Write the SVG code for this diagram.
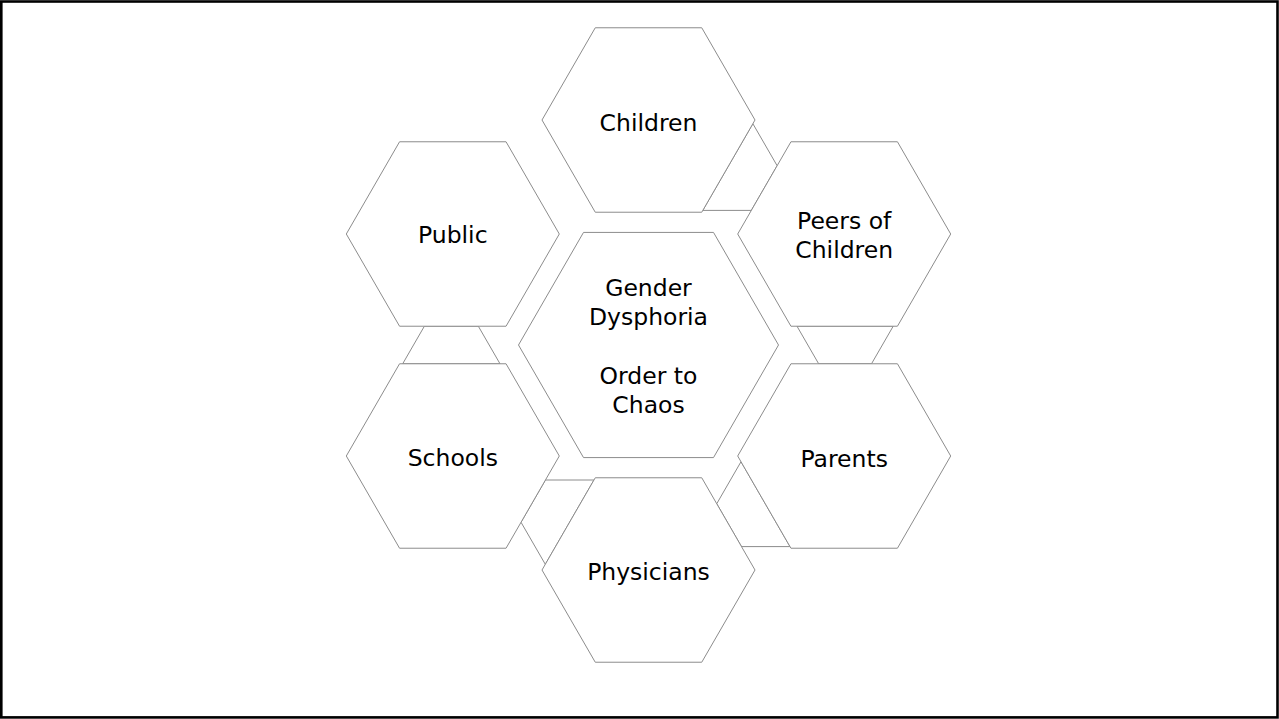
<svg xmlns="http://www.w3.org/2000/svg" width="1279" height="719" viewBox="0 0 1279 719">
<style>
.hex{fill:#fff;stroke:#8c8c8c;stroke-width:1}
.conn{fill:#fff;stroke:#8c8c8c;stroke-width:1}
.lbl{font-family:"DejaVu Sans",Verdana,sans-serif;font-size:23.5px;fill:#000;text-anchor:middle}
</style>
<rect x="0" y="0" width="1279" height="719" fill="#fff"/>
<rect x="1.3" y="1.5" width="1276.2" height="715.9" fill="none" stroke="#000" stroke-width="2.6"/>
<g id="connectors">
<polygon class="conn" points="752.87,123.69 777.13,165.71 751.3,210.4 702.8,210.4"/>
<polygon class="conn" points="893.2,326.23 871.53,363.77 818.67,363.77 797,326.23"/>
<polygon class="conn" points="741,461.7 790,546.6 741.48,546.6 716.74,503.72"/>
<polygon class="conn" points="593.97,480 545.3,564.3 521.04,522.28 545.45,480"/>
<polygon class="conn" points="402.7,363.77 500,363.77 478.33,326.23 424.37,326.23"/>
</g>
<g id="center">
<polygon class="hex" points="778.5,345 713.5,457.58 583.5,457.58 518.5,345 583.5,232.42 713.5,232.42"/>
<text class="lbl" x="648.5" y="296">Gender</text>
<text class="lbl" x="648.5" y="325">Dysphoria</text>
<text class="lbl" x="648.5" y="384">Order to</text>
<text class="lbl" x="648.5" y="413">Chaos</text>
</g>
<g id="children">
<polygon class="hex" points="755,120 701.75,212.23 595.25,212.23 542,120 595.25,27.77 701.75,27.77"/>
<text class="lbl" x="648.5" y="131">Children</text>
</g>
<g id="peers">
<polygon class="hex" points="950.7,234 897.45,326.23 790.95,326.23 737.7,234 790.95,141.77 897.45,141.77"/>
<text class="lbl" x="844.2" y="229">Peers of</text>
<text class="lbl" x="844.2" y="258">Children</text>
</g>
<g id="parents">
<polygon class="hex" points="950.7,456 897.45,548.23 790.95,548.23 737.7,456 790.95,363.77 897.45,363.77"/>
<text class="lbl" x="844.2" y="466.5">Parents</text>
</g>
<g id="physicians">
<polygon class="hex" points="755,570 701.75,662.23 595.25,662.23 542,570 595.25,477.77 701.75,477.77"/>
<text class="lbl" x="648.5" y="580">Physicians</text>
</g>
<g id="schools">
<polygon class="hex" points="559.3,456 506.05,548.23 399.55,548.23 346.3,456 399.55,363.77 506.05,363.77"/>
<text class="lbl" x="452.8" y="466">Schools</text>
</g>
<g id="public">
<polygon class="hex" points="559.3,234 506.05,326.23 399.55,326.23 346.3,234 399.55,141.77 506.05,141.77"/>
<text class="lbl" x="452.8" y="243">Public</text>
</g>
</svg>
